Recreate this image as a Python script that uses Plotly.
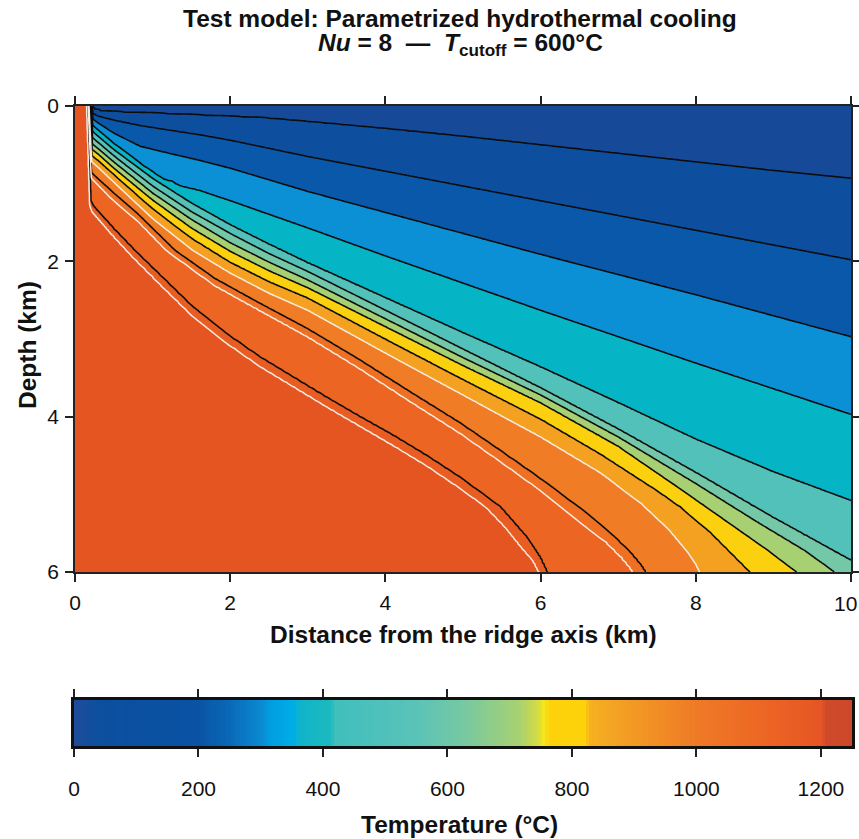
import numpy as np
import plotly.graph_objects as go

# ---------------- data ----------------
# Isotherms: distance from ridge axis (km) and depth (km) of each contour line
T100_x = [0.225, 0.24, 0.36, 1.2, 2.4, 3.0, 4.0, 5.0, 6.0, 7.0, 8.0, 9.0, 10.0]
T100_z = [0.0, 0.035, 0.07, 0.10, 0.15, 0.20, 0.29, 0.39, 0.50, 0.61, 0.72, 0.83, 0.93]
T200_x = [0.22, 0.232, 0.30, 0.5, 0.84, 1.22, 1.61, 2.0, 3.0, 4.0, 5.0, 6.0, 7.0, 8.0, 9.0, 10.0]
T200_z = [0.0, 0.10, 0.13, 0.18, 0.25, 0.31, 0.37, 0.44, 0.65, 0.84, 1.03, 1.22, 1.41, 1.60, 1.79, 1.98]
T300_x = [0.215, 0.23, 0.30, 0.5, 0.84, 1.22, 1.61, 2.0, 3.0, 4.0, 5.0, 6.0, 7.0, 8.0, 9.0, 10.0]
T300_z = [0.0, 0.17, 0.22, 0.35, 0.52, 0.61, 0.70, 0.80, 1.10, 1.37, 1.64, 1.91, 2.17, 2.43, 2.70, 2.97]
T400_x = [0.21, 0.228, 0.30, 0.5, 0.9, 1.15, 1.25, 1.35, 1.61, 2.0, 3.0, 4.0, 5.0, 6.0, 7.0, 8.0, 9.0, 10.0]
T400_z = [0.0, 0.25, 0.31, 0.48, 0.78, 0.95, 0.97, 1.03, 1.09, 1.22, 1.57, 1.93, 2.28, 2.63, 2.97, 3.31, 3.64, 3.97]
T500_x = [0.205, 0.226, 0.30, 0.5, 1.0, 1.5, 2.0, 2.5, 3.0, 4.0, 5.0, 6.0, 7.0, 8.0, 9.0, 10.0]
T500_z = [0.0, 0.33, 0.39, 0.56, 0.93, 1.25, 1.53, 1.78, 2.02, 2.47, 2.92, 3.36, 3.82, 4.29, 4.71, 5.08]
T600_x = [0.20, 0.224, 0.30, 0.5, 1.0, 1.5, 2.0, 2.5, 3.0, 4.0, 5.0, 6.0, 7.0, 8.0, 9.0, 10.0]
T600_z = [0.0, 0.41, 0.47, 0.64, 1.03, 1.36, 1.64, 1.90, 2.13, 2.63, 3.13, 3.63, 4.16, 4.72, 5.30, 5.85]
T700_x = [0.195, 0.222, 0.30, 0.5, 1.0, 1.5, 2.0, 2.5, 3.0, 4.0, 5.0, 6.0, 7.0, 8.0, 8.8, 9.4, 9.79]
T700_z = [0.0, 0.49, 0.55, 0.72, 1.12, 1.46, 1.76, 2.01, 2.24, 2.74, 3.24, 3.72, 4.26, 4.86, 5.36, 5.72, 6.0]
T800_x = [0.19, 0.22, 0.30, 0.5, 1.0, 1.5, 2.0, 2.5, 3.0, 4.0, 5.0, 6.0, 7.0, 7.8, 8.4, 8.9, 9.3]
T800_z = [0.0, 0.56, 0.62, 0.80, 1.21, 1.57, 1.87, 2.12, 2.34, 2.84, 3.34, 3.82, 4.38, 4.93, 5.35, 5.70, 6.0]
T900_x = [0.185, 0.218, 0.30, 0.5, 1.0, 1.5, 2.0, 2.5, 3.0, 4.0, 5.0, 6.0, 6.77, 7.5, 7.8, 8.2, 8.5, 8.7]
T900_z = [0.0, 0.64, 0.70, 0.88, 1.32, 1.70, 2.01, 2.26, 2.47, 3.0, 3.52, 4.03, 4.48, 4.95, 5.16, 5.50, 5.80, 6.0]
W950_x = [0.18, 0.215, 0.30, 0.5, 1.0, 1.52, 2.0, 2.5, 3.0, 4.0, 5.0, 6.0, 6.77, 7.3, 7.65, 7.9, 8.0, 8.05]
W950_z = [0.0, 0.72, 0.79, 0.98, 1.45, 1.86, 2.15, 2.41, 2.63, 3.18, 3.72, 4.26, 4.72, 5.12, 5.45, 5.75, 5.9, 6.0]
T1000_x = [0.175, 0.212, 0.30, 0.5, 0.8, 1.29, 1.8, 2.38, 3.0, 3.67, 4.3, 4.96, 5.5, 6.0, 6.55, 6.9, 7.15, 7.3, 7.35]
T1000_z = [0.0, 0.86, 0.94, 1.12, 1.38, 1.86, 2.22, 2.54, 2.87, 3.27, 3.67, 4.08, 4.45, 4.80, 5.21, 5.50, 5.74, 5.92, 6.0]
W1050_x = [0.17, 0.21, 0.30, 0.5, 0.8, 1.18, 1.8, 2.38, 3.0, 3.67, 4.3, 4.96, 5.5, 6.0, 6.5, 6.85, 7.05, 7.15, 7.19]
W1050_z = [0.0, 0.93, 1.02, 1.22, 1.47, 1.86, 2.31, 2.63, 2.97, 3.38, 3.79, 4.21, 4.59, 4.95, 5.35, 5.62, 5.82, 5.94, 6.0]
T1100_x = [0.165, 0.205, 0.24, 0.5, 0.77, 1.10, 1.52, 1.95, 2.38, 2.81, 3.24, 3.67, 4.10, 4.53, 4.96, 5.48, 5.82, 5.99, 6.08]
T1100_z = [0.0, 1.22, 1.29, 1.58, 1.86, 2.18, 2.59, 2.93, 3.23, 3.49, 3.75, 4.00, 4.24, 4.50, 4.78, 5.16, 5.55, 5.81, 6.0]
W1150_x = [0.15, 0.19, 0.22, 0.5, 0.77, 1.10, 1.52, 1.95, 2.38, 2.81, 3.24, 3.67, 4.10, 4.53, 4.96, 5.3, 5.55, 5.75, 5.9, 5.98]
W1150_z = [0.0, 1.28, 1.36, 1.68, 1.97, 2.30, 2.71, 3.05, 3.35, 3.61, 3.87, 4.12, 4.37, 4.63, 4.92, 5.17, 5.43, 5.68, 5.85, 6.0]

ISO_LEVELS = [100, 200, 300, 400, 500, 600, 700, 800, 900, 950, 1000, 1050, 1100, 1150]
ISO_X = [T100_x, T200_x, T300_x, T400_x, T500_x, T600_x, T700_x, T800_x, T900_x,
         W950_x, T1000_x, W1050_x, T1100_x, W1150_x]
ISO_Z = [T100_z, T200_z, T300_z, T400_z, T500_z, T600_z, T700_z, T800_z, T900_z,
         W950_z, T1000_z, W1050_z, T1100_z, W1150_z]

# band fill colours (lower bound of band, colour)
BAND_LOWER = [0, 100, 200, 300, 400, 500, 600, 700, 800, 900, 950, 1000, 1050, 1100, 1150]
BAND_COLOR = ['#164a98', '#0d4f9e', '#0a58a9', '#0b8fd5', '#05b5c6', '#52c1b9', '#74c8a7',
              '#a7d072', '#fbd10f', '#f4a021', '#f07d25', '#ef6f23', '#ed6522', '#e95d22', '#e45522']

# colour bar
CBAR_T = [0, 40, 200, 216, 250, 280, 306, 314, 355, 363, 412, 420, 550, 630, 715, 747, 755,
          763, 820, 830, 876, 1000, 1120, 1200, 1210, 1250]
CBAR_C = ['#1e4c98', '#0c4f9f', '#0a52a3', '#0a5aab', '#0a68b8', '#0a7cc8', '#0a8ed4', '#009ee0',
          '#00aee6', '#10b4c8', '#1cbac0', '#40bfbd', '#5ac3b8', '#78c9a0', '#a8d172', '#d8dc40',
          '#f5e620', '#fdd20a', '#fdd20a', '#f6b020', '#f3a024', '#ef7a26', '#ec6424', '#e65524',
          '#d04a2a', '#cc482a']
CBAR_TICKS = [0, 200, 400, 600, 800, 1000, 1200]
X_TICKS = [0, 2, 4, 6, 8, 10]
X_TICKTEXT = ['0', '2', '4', '6', '8', '']   # "10" is placed as a text at the page edge
Y_TICKS = [0, 2, 4, 6]

# ---------------- build temperature grid from isotherms ----------------
xg = np.unique(np.round(np.concatenate([np.arange(0, 0.4, 0.005), np.arange(0.4, 10.0001, 0.025)]), 4))
zg = np.round(np.arange(0, 6.0001, 0.02), 4)
X, Z = np.meshgrid(xg, zg)


def polyline_dist(xs, zs):
    d = np.full(X.shape, np.inf)
    for i in range(len(xs) - 1):
        ax, az, bx, bz = xs[i], zs[i], xs[i + 1], zs[i + 1]
        dx, dz = bx - ax, bz - az
        L2 = dx * dx + dz * dz
        t = np.clip(((X - ax) * dx + (Z - az) * dz) / L2, 0, 1)
        d = np.minimum(d, np.hypot(X - ax - t * dx, Z - az - t * dz))
    return d


def hot_side(xs, zs):
    pts = [(xs[0], -1.0)] + list(zip(xs, zs))
    if zs[-1] >= 5.999:
        pts += [(xs[-1], 7.0)]
    else:
        pts += [(11.0, zs[-1]), (11.0, 7.0)]
    pts += [(-1.0, 7.0), (-1.0, -1.0)]
    res = np.zeros(X.shape, bool)
    n = len(pts)
    j = n - 1
    for i in range(n):
        xi, yi = pts[i]
        xj, yj = pts[j]
        if yi != yj:
            cond = ((yi > Z) != (yj > Z)) & (X < (xj - xi) * (Z - yi) / (yj - yi) + xi)
            res ^= cond
        j = i
    return res


n = len(ISO_LEVELS)
D = np.stack([polyline_dist(ISO_X[k], ISO_Z[k]) for k in range(n)])
H = np.stack([hot_side(ISO_X[k], ISO_Z[k]) for k in range(n)])
cnt = H.sum(0)
lev = np.array(ISO_LEVELS, float)
T = np.zeros(X.shape)
m0 = cnt == 0
T[m0] = lev[0] - np.minimum(D[0][m0], 1.0) * 90
mN = cnt == n
T[mN] = lev[-1] + np.minimum(D[-1][mN], 1.0) * 45 + 1
mid = ~(m0 | mN)
c = np.clip(cnt, 1, n - 1)
dlo = np.take_along_axis(D, (c - 1)[None], 0)[0]
dhi = np.take_along_axis(D, c[None], 0)[0]
llo = lev[c - 1]
lhi = lev[c]
Tm = llo + (lhi - llo) * dlo / (dlo + dhi + 1e-12)
T[mid] = Tm[mid]
Zfield = np.round(T, 1).tolist()

# fill colour scale (plotly colours the band above level k at fraction (k+1)/nc)
start, end, size = 50, 1150, 50
nc = int((end - start) / size) + 1
fill_cs = []
for i in range(nc + 1):
    lower = i * size
    col = BAND_COLOR[max(j for j, b in enumerate(BAND_LOWER) if b <= lower)]
    a = max(0.0, (i - 0.5) / nc)
    b = min(1.0, (i + 0.5) / nc)
    fill_cs.append([a, col])
    fill_cs.append([b, col])

cbar_cs = [[t / 1250.0, col] for t, col in zip(CBAR_T, CBAR_C)]

FONT = 'Liberation Sans, Arial, Helvetica, sans-serif'
W, Hh = 859, 839
px = lambda v: v / W
py = lambda v: 1 - v / Hh

fig = go.Figure()
fig.add_trace(go.Contour(
    x=xg, y=zg, z=Zfield, colorscale=fill_cs, showscale=False, hoverinfo='skip',
    contours=dict(start=start, end=end, size=size, coloring='fill', showlines=False),
    line=dict(width=0)))
fig.add_trace(go.Contour(
    x=xg, y=zg, z=Zfield, showscale=False, hoverinfo='skip',
    contours=dict(start=100, end=1100, size=100, coloring='none'),
    line=dict(color='#0d0d0d', width=1.6, smoothing=0.9)))
fig.add_trace(go.Contour(
    x=xg, y=zg, z=Zfield, showscale=False, hoverinfo='skip',
    contours=dict(start=950, end=1150, size=100, coloring='none'),
    line=dict(color='#f6ece2', width=1.5, smoothing=0.9)))

cb_vals = np.linspace(0, 1250, 251)
fig.add_trace(go.Heatmap(
    x=cb_vals, y=[0, 1], z=[cb_vals, cb_vals], colorscale=cbar_cs, zmin=0, zmax=1250,
    showscale=False, hoverinfo='skip', xaxis='x2', yaxis='y2'))

axis_common = dict(showgrid=False, zeroline=False, ticks='outside', ticklen=8, tickwidth=1.5,
                   tickcolor='#222', showline=True, linecolor='#222', linewidth=1.5,
                   mirror='ticks', tickfont=dict(family=FONT, size=21, color='#111'),
                   automargin=False)

fig.update_layout(
    width=W, height=Hh, margin=dict(l=0, r=0, t=0, b=0),
    paper_bgcolor='white', plot_bgcolor='white', showlegend=False, hovermode=False,
    xaxis=dict(domain=[px(75), px(851)], range=[0, 10], tickvals=X_TICKS, ticktext=X_TICKTEXT,
               anchor='y', ticklabelstandoff=3, **axis_common),
    yaxis=dict(domain=[py(572), py(106)], range=[6, 0], tickvals=Y_TICKS, anchor='x',
               ticklabelstandoff=2, **axis_common),
    xaxis2=dict(domain=[px(74), px(852)], range=[0, 1250], tickvals=CBAR_TICKS, anchor='y2',
                ticklabelstandoff=14, ticklabeloverflow='allow',
                **{**axis_common, 'linewidth': 2.5, 'linecolor': '#111'}),
    yaxis2=dict(domain=[py(746), py(700)], range=[-0.5, 1.5], anchor='x2', showgrid=False,
                zeroline=False, showticklabels=False, ticks='', showline=True, mirror=True,
                linewidth=2.5, linecolor='#111'),
)

ann = [
    dict(text='<b>Test model: Parametrized hydrothermal cooling</b>', x=px(460), y=py(19),
         font=dict(size=24.5)),
    dict(text='<b><i>Nu</i> = 8\u00a0\u00a0\u2014\u00a0\u00a0<i>T</i><sub>cutoff</sub> = 600\u00b0C</b>',
         x=px(460), y=py(45), font=dict(size=24.5)),
    dict(text='<b>Distance from the ridge axis (km)</b>', x=px(463), y=py(634), font=dict(size=24.5)),
    dict(text='<b>Depth (km)</b>', x=px(27), y=py(345), textangle=-90, font=dict(size=24.5)),
    dict(text='<b>Temperature (\u00b0C)</b>', x=px(459), y=py(824), font=dict(size=24.5)),
    dict(text=str(X_TICKS[-1]), x=px(859), y=py(603), xanchor='right', font=dict(size=21)),
]
for a in ann:
    a.update(xref='paper', yref='paper', showarrow=False, yanchor='middle')
    a.setdefault('xanchor', 'center')
    a['font'].update(family=FONT, color='#111')
fig.update_layout(annotations=ann)

fig.write_html('out.html', config={'displayModeBar': False},
               post_script="document.body.style.margin='0';")
